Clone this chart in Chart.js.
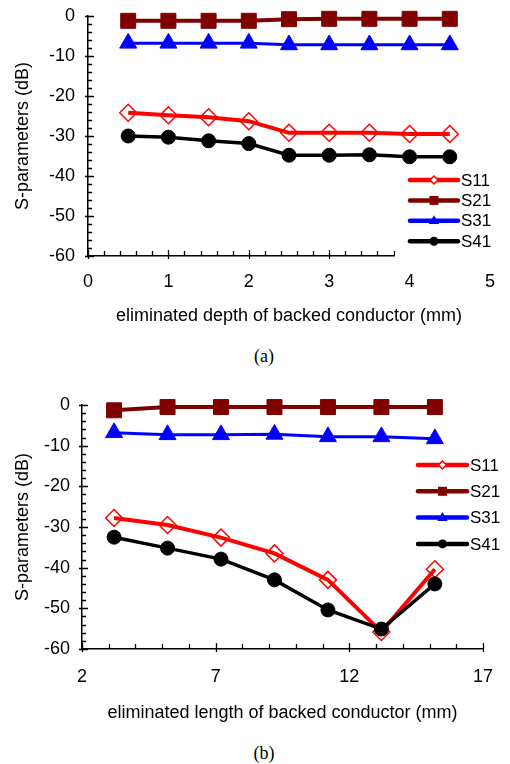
<!DOCTYPE html>
<html><head><meta charset="utf-8">
<script src="https://cdn.jsdelivr.net/npm/chart.js@4/dist/chart.umd.min.js"></script>
<style>
html,body{margin:0;padding:0;background:#fff;width:510px;height:764px;overflow:hidden;}
canvas{position:absolute;left:0;}
#c1{top:-14px}
#c2{top:380px}
.cap{position:absolute;width:510px;left:9px;text-align:center;font-family:'Liberation Serif','Times New Roman',serif;font-size:18px;line-height:20px;color:#000;}
</style></head><body>
<canvas id="c1" width="510" height="354"></canvas>
<div class="cap" style="top:346px;">(a)</div>
<canvas id="c2" width="510" height="360"></canvas>
<div class="cap" style="top:743px;">(b)</div>
<script>
// ---------- data ----------
const seriesNames = ['S11', 'S21', 'S31', 'S41'];

const depthMm = [0.5, 1, 1.5, 2, 2.5, 3, 3.5, 4, 4.5];
const depthS11 = [-24.2, -24.8, -25.3, -26.3, -29.2, -29.2, -29.2, -29.5, -29.5];
const depthS21 = [-1.2, -1.2, -1.2, -1.2, -0.8, -0.7, -0.7, -0.7, -0.7];
const depthS31 = [-6.8, -6.8, -6.8, -6.8, -7.2, -7.2, -7.2, -7.2, -7.2];
const depthS41 = [-30.0, -30.3, -31.2, -31.9, -34.8, -34.8, -34.7, -35.2, -35.2];

const lengthMm = [3.2, 5.2, 7.2, 9.2, 11.2, 13.2, 15.2];
const lengthS11 = [-27.8, -29.5, -32.6, -36.5, -43.0, -55.8, -40.4];
const lengthS21 = [-1.3, -0.5, -0.5, -0.5, -0.5, -0.5, -0.5];
const lengthS31 = [-6.8, -7.3, -7.3, -7.2, -7.8, -7.8, -8.3];
const lengthS41 = [-32.5, -35.2, -37.9, -43.0, -50.4, -55.1, -44.0];

const depthTickLabels = [0, 1, 2, 3, 4, 5];
const lengthTickLabels = [2, 7, 12, 17];
const dbTickLabels = [0, -10, -20, -30, -40, -50, -60];

// ---------- styles ----------
const FONT = "'Liberation Sans', Arial, sans-serif";
const styles = [
  {color: '#FF0000', pointStyle: 'rectRot', radius: 8.5, lineWidth: 4, fill: 'rgba(0,0,0,0)', pbw: 1.5, order: 3},
  {color: '#800000', pointStyle: 'rect', radius: 10.6, lineWidth: 4, fill: '#800000', pbw: 1, order: 2},
  {color: '#0000FF', pointStyle: 'triangle', radius: 9.8, lineWidth: 3, fill: '#0000FF', pbw: 1, order: 1},
  {color: '#000000', pointStyle: 'circle', radius: 7, lineWidth: 3.5, fill: '#000000', pbw: 1, order: 0}
];

function near(v, list) { return list.some(t => Math.abs(t - v) < 1e-6); }

function makeDatasets(xs, ys) {
  return ys.map((arr, i) => {
    const s = styles[i];
    return {
      label: seriesNames[i],
      data: xs.map((x, j) => ({x: x, y: arr[j]})),
      borderColor: s.color,
      backgroundColor: s.fill,
      borderWidth: s.lineWidth,
      pointStyle: s.pointStyle,
      pointRadius: s.radius,
      pointHoverRadius: s.radius,
      pointBorderColor: s.color,
      pointBackgroundColor: s.fill,
      pointBorderWidth: s.pbw,
      tension: 0,
      order: s.order,
      clip: false
    };
  });
}

// inside tick marks drawn from the library's scales
const tickPlugin = {
  id: 'insideTicks',
  beforeDatasetsDraw(chart) {
    const ctx = chart.ctx;
    const xs = chart.scales.x, ys = chart.scales.y;
    const xMajor = chart.options.plugins.insideTicks.xMajor;
    ctx.save();
    ctx.strokeStyle = '#000';
    ctx.lineWidth = 1.3;
    ctx.beginPath();
    const by = ys.getPixelForValue(ys.min);
    xs.ticks.forEach(t => {
      const px = Math.round(xs.getPixelForValue(t.value)) + 0.5;
      const major = near(t.value, xMajor);
      ctx.moveTo(px, by + (major ? 3 : 0));
      ctx.lineTo(px, by - (major ? 6 : 5));
    });
    const bx = xs.getPixelForValue(xs.min);
    ys.ticks.forEach(t => {
      const py = Math.round(ys.getPixelForValue(t.value)) + 0.5;
      const major = near(t.value, dbTickLabels);
      ctx.moveTo(bx - (major ? 3 : 0), py);
      ctx.lineTo(bx + (major ? 6 : 4), py);
    });
    ctx.stroke();
    ctx.restore();
  }
};

function drawMarker(ctx, style, x, y, r) {
  ctx.beginPath();
  if (style === 'rectRot') {
    ctx.moveTo(x, y - r); ctx.lineTo(x + r, y); ctx.lineTo(x, y + r); ctx.lineTo(x - r, y); ctx.closePath();
  } else if (style === 'rect') {
    ctx.rect(x - r, y - r, 2 * r, 2 * r);
  } else if (style === 'triangle') {
    ctx.moveTo(x, y - r); ctx.lineTo(x + r * 0.95, y + r * 0.6); ctx.lineTo(x - r * 0.95, y + r * 0.6); ctx.closePath();
  } else {
    ctx.arc(x, y, r, 0, Math.PI * 2);
  }
}

const legendPlugin = {
  id: 'sideLegend',
  afterDraw(chart) {
    const o = chart.options.plugins.sideLegend;
    const ctx = chart.ctx;
    ctx.save();
    if (o.box) {
      ctx.fillStyle = '#fff';
      ctx.fillRect(o.box[0], o.box[1], o.box[2], o.box[3]);
    }
    chart.data.datasets.forEach((ds, i) => {
      const y = o.y0 + i * o.dy;
      const s = styles[i];
      ctx.strokeStyle = s.color;
      ctx.lineWidth = 4.5;
      ctx.lineCap = 'round';
      ctx.beginPath();
      ctx.moveTo(o.x1, y); ctx.lineTo(o.x2, y);
      ctx.stroke();
      const mx = (o.x1 + o.x2) / 2;
      const mr = [4, 4.5, 5.5, 4.5][i];
      drawMarker(ctx, s.pointStyle, mx, y, mr);
      if (i === 0) {
        ctx.fillStyle = '#fff'; ctx.fill();
        ctx.lineWidth = 1.5; ctx.strokeStyle = s.color; ctx.stroke();
      } else {
        ctx.fillStyle = s.color; ctx.fill();
      }
      ctx.fillStyle = '#000';
      ctx.font = '17px ' + FONT;
      ctx.textAlign = 'left';
      ctx.textBaseline = 'middle';
      ctx.fillText(ds.label, o.tx, y + 1);
    });
    ctx.restore();
  }
};

function makeChart(id, cfg) {
  return new Chart(document.getElementById(id), {
    type: 'line',
    data: {datasets: makeDatasets(cfg.xs, cfg.ys)},
    options: {
      responsive: false,
      animation: false,
      events: [],
      layout: {padding: {left: 0, top: cfg.padTop, right: cfg.padRight, bottom: 0}},
      plugins: {
        legend: {display: false},
        tooltip: {enabled: false},
        insideTicks: {xMajor: cfg.xMajor},
        sideLegend: cfg.legend
      },
      scales: {
        x: {
          type: 'linear',
          min: cfg.xMin, max: cfg.xMax,
          afterFit(s) { s.height = cfg.xHeight; },
          grid: {display: false, drawTicks: false},
          border: {display: true, color: '#000', width: 1.5},
          ticks: {
            stepSize: cfg.xStep, autoSkip: false, maxRotation: 0,
            padding: cfg.xPad, color: '#000', font: {family: FONT, size: 18},
            callback: v => near(v, cfg.xMajor) ? String(Math.round(v)) : ''
          },
          title: {display: true, text: cfg.xTitle, color: '#000', font: {family: FONT, size: 18},
                  padding: {top: 0, bottom: cfg.xTitlePad}}
        },
        y: {
          type: 'linear',
          min: -60, max: 0,
          afterFit(s) { s.width = cfg.yWidth; },
          grid: {display: false, drawTicks: false},
          border: {display: true, color: '#000', width: 1.5},
          ticks: {
            stepSize: 2, autoSkip: false,
            padding: cfg.yPad, color: '#000', font: {family: FONT, size: 18},
            callback: v => near(v, dbTickLabels) ? String(Math.round(v)) : ''
          },
          title: {display: true, text: 'S-parameters (dB)', color: '#000', font: {family: FONT, size: 18},
                  padding: {top: 12, bottom: 0}}
        }
      }
    },
    plugins: [tickPlugin, legendPlugin]
  });
}

makeChart('c1', {
  xs: depthMm, ys: [depthS11, depthS21, depthS31, depthS41],
  xMin: 0, xMax: 5, xStep: 0.2, xMajor: depthTickLabels,
  padTop: 30, padRight: 12, xHeight: 84, yWidth: 88, xPad: 15, yPad: 13, xTitlePad: 13,
  xTitle: 'eliminated depth of backed conductor (mm)',
  legend: {x1: 410, x2: 458, tx: 461, y0: 194, dy: 20.4, box: [395, 181, 115, 96]}
});

makeChart('c2', {
  xs: lengthMm, ys: [lengthS11, lengthS21, lengthS31, lengthS41],
  xMin: 2, xMax: 17, xStep: 1, xMajor: lengthTickLabels,
  padTop: 25, padRight: 13, xHeight: 91, yWidth: 82, xPad: 17, yPad: 12, xTitlePad: 16,
  xTitle: 'eliminated length of backed conductor (mm)',
  legend: {x1: 418, x2: 467, tx: 470, y0: 85, dy: 26.3, box: null}
});
</script>
</body></html>
